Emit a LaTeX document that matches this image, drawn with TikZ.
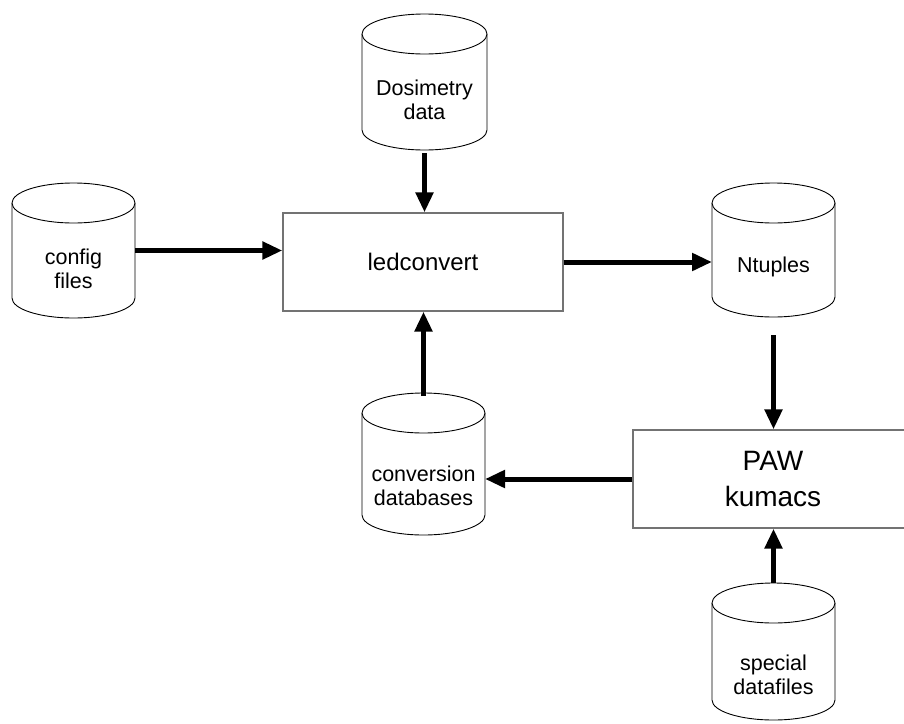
\documentclass[tikz,border=0pt]{standalone}
\usepackage{fontspec}
\setmainfont{Liberation Sans}
\usetikzlibrary{arrows.meta,calc}
\tikzset{
  cylframe/.style={inner sep=0pt, outer sep=0pt},
  cylline/.style={draw=black, line width=0.9pt, fill=white},
  cyltext/.style={font=\fontsize{21.5}{24}\selectfont, align=center, inner sep=0pt},
  procbox/.style={draw=black!55, line width=1.2pt, fill=white, minimum width=280pt, minimum height=98pt, align=center, inner sep=0pt},
  conn/.style={line width=5pt, -{Triangle[length=20pt,width=17pt]}},
}
% #1 name, #2 cx, #3 top, #4 bottom, #5 rx, #6 text y, #7 text
\newcommand{\dbcyl}[7]{%
  \node[cylframe, minimum width={#5*2pt}, minimum height={(#4-#3)*1pt}] (#1) at (#2,{-(#3+#4)/2}) {};
  \draw[cylline] ([yshift=-20pt]#1.north west) -- ([yshift=20pt]#1.south west)
     arc[start angle=180,end angle=360,x radius=#5pt,y radius=20pt] -- ([yshift=-20pt]#1.north east);
  \draw[cylline] ([yshift=-20pt]#1.north) ellipse[x radius=#5pt, y radius=20pt];
  \node[cyltext] (#1-t) at (#2,-#6) {#7};
}
\begin{document}
\begin{tikzpicture}[x=1pt,y=1pt]
\useasboundingbox (0,0) rectangle (904,-723);
\fill[white] (0,0) rectangle (904,-723);

\dbcyl{dos}{424.5}{14}{150}{62.5}{100}{Dosimetry\\data}
\dbcyl{cfg}{73.5}{183}{318}{61.5}{269}{config\\files}
\dbcyl{ntp}{773.5}{183}{317}{61.5}{267}{Ntuples}
\dbcyl{conv}{423.5}{393}{535}{61.5}{486}{conversion\\databases}
\dbcyl{spc}{773.5}{583}{720}{61.5}{675}{special\\datafiles}

\node[procbox, font=\fontsize{24}{28}\selectfont] (led) at (423,-262) {ledconvert};
\node[procbox, font=\fontsize{28}{36}\selectfont] (paw) at (773,-479) {PAW\\kumacs};

\draw[conn] (cfg.east) -- (cfg.east -| led.west);
\draw[conn, shorten <=3pt] (dos.south) -- (dos.south |- led.north);
\draw[conn] (led.east) -- (led.east -| ntp.west);
\draw[conn, shorten <=18pt] (ntp.south) -- (ntp.south |- paw.north);
\draw[conn, shorten <=-3pt] (conv.north) -- (conv.north |- led.south);
\draw[conn] (paw.west) -- (paw.west -| conv.east);
\draw[conn] (spc.north) -- (spc.north |- paw.south);
\end{tikzpicture}
\end{document}
